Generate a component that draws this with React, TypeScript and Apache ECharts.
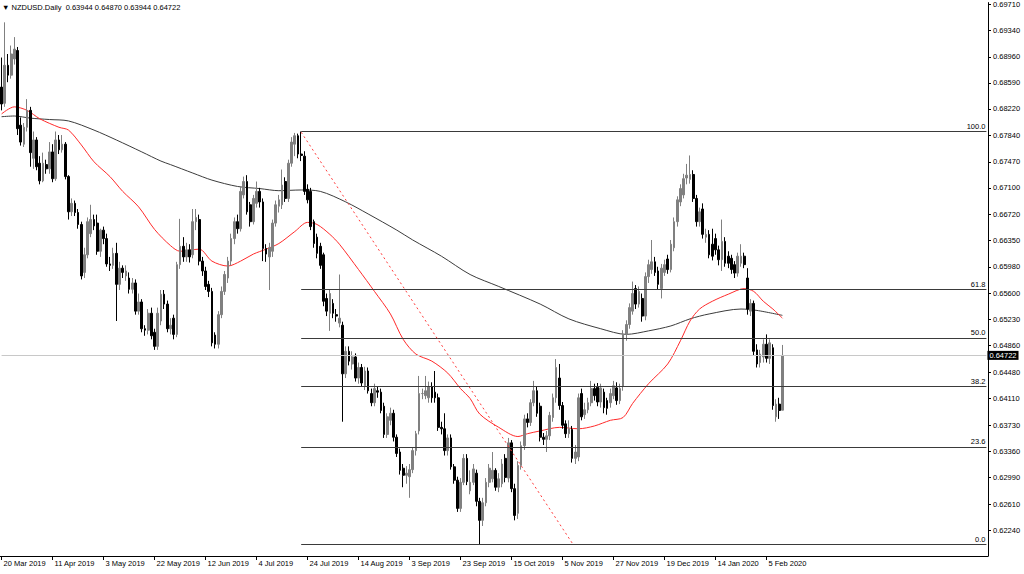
import React, { useEffect, useRef } from "react";
import * as echarts from "echarts";

const symbol = "NZDUSD";
const timeframe = "Daily";
const totalSlots = 310;

const dateLabels = [
  "20 Mar 2019", "11 Apr 2019", "3 May 2019", "22 May 2019", "12 Jun 2019", "4 Jul 2019",
  "24 Jul 2019", "14 Aug 2019", "3 Sep 2019", "23 Sep 2019", "15 Oct 2019", "5 Nov 2019",
  "27 Nov 2019", "19 Dec 2019", "14 Jan 2020", "5 Feb 2020",
];

const yTickValues = [
  0.6187, 0.6224, 0.6261, 0.6299, 0.6336, 0.6373, 0.6411, 0.6448, 0.6486, 0.6523, 0.656,
  0.6598, 0.6635, 0.6672, 0.671, 0.6747, 0.6784, 0.6822, 0.6859, 0.6896, 0.6934, 0.6971,
];

const opens = [
  0.6853, 0.6830, 0.6884, 0.6870, 0.6893, 0.6905, 0.6799, 0.6772, 0.6796, 0.6820,
  0.6752, 0.6778, 0.6745, 0.6720, 0.6743, 0.6737, 0.6761, 0.6723, 0.6778, 0.6764,
  0.6772, 0.6726, 0.6676, 0.6688, 0.6675, 0.6658, 0.6590, 0.6615, 0.6645, 0.6665,
  0.6660, 0.6620, 0.6650, 0.6638, 0.6602, 0.6600, 0.6617, 0.6573, 0.6596, 0.6585,
  0.6582, 0.6566, 0.6575, 0.6535, 0.6548, 0.6510, 0.6508, 0.6532, 0.6505, 0.6485,
  0.6521, 0.6559, 0.6545, 0.6510, 0.6525, 0.6502, 0.6601, 0.6627, 0.6612, 0.6622,
  0.6615, 0.6662, 0.6665, 0.6606, 0.6592, 0.6573, 0.6563, 0.6501, 0.6488, 0.6530,
  0.6563, 0.6582, 0.6606, 0.6638, 0.6662, 0.6652, 0.6700, 0.6719, 0.6686, 0.6662,
  0.6688, 0.6705, 0.6690, 0.6624, 0.6612, 0.6620, 0.6660, 0.6684, 0.6686, 0.6719,
  0.6695, 0.6745, 0.6772, 0.6784, 0.6758, 0.6755, 0.6708, 0.6705, 0.6662, 0.6640,
  0.6627, 0.6615, 0.6553, 0.6532, 0.6546, 0.6530, 0.6518, 0.6515, 0.6446, 0.6478,
  0.6460, 0.6470, 0.6440, 0.6455, 0.6429, 0.6450, 0.6418, 0.6405, 0.6422, 0.6420,
  0.6400, 0.6360, 0.6380, 0.6390, 0.6356, 0.6335, 0.6312, 0.6302, 0.6300, 0.6310,
  0.6337, 0.6365, 0.6418, 0.6415, 0.6412, 0.6428, 0.6420, 0.6412, 0.6370, 0.6368,
  0.6337, 0.6355, 0.6314, 0.6295, 0.6255, 0.6292, 0.6326, 0.6280, 0.6292, 0.6305,
  0.6265, 0.6238, 0.6263, 0.6292, 0.6297, 0.6309, 0.6285, 0.6290, 0.6326, 0.6298,
  0.6348, 0.6283, 0.6248, 0.6316, 0.6344, 0.6382, 0.6377, 0.6405, 0.6422, 0.6400,
  0.6356, 0.6353, 0.6358, 0.6384, 0.6412, 0.6440, 0.6401, 0.6375, 0.6361, 0.6367,
  0.6326, 0.6328, 0.6418, 0.6388, 0.6395, 0.6405, 0.6425, 0.6427, 0.6406, 0.6420,
  0.6408, 0.6405, 0.6415, 0.6426, 0.6408, 0.6428, 0.6502, 0.6516, 0.6535, 0.6567,
  0.6545, 0.6553, 0.6528, 0.6584, 0.6594, 0.6605, 0.6592, 0.6567, 0.6590, 0.6609,
  0.6594, 0.6625, 0.6662, 0.6690, 0.6700, 0.6724, 0.6722, 0.6729, 0.6695, 0.6662,
  0.6680, 0.6640, 0.6644, 0.6630, 0.6638, 0.6622, 0.6608, 0.6634, 0.6613, 0.6610,
  0.6601, 0.6589, 0.6603, 0.6613, 0.6582, 0.6535, 0.6546, 0.6480, 0.6462, 0.6470,
  0.6488, 0.6468, 0.6483, 0.6385, 0.6403, 0.63944,
];

const highs = [
  0.6895, 0.6945, 0.6900, 0.6912, 0.6924, 0.6910, 0.6810, 0.6802, 0.6836, 0.6825,
  0.6790, 0.6782, 0.6755, 0.6760, 0.6750, 0.6775, 0.6772, 0.6790, 0.6785, 0.6785,
  0.6775, 0.6728, 0.6695, 0.6692, 0.6680, 0.6662, 0.6625, 0.6668, 0.6686, 0.6672,
  0.6672, 0.6652, 0.6655, 0.6645, 0.6612, 0.6625, 0.6632, 0.6605, 0.6600, 0.6600,
  0.6590, 0.6582, 0.6580, 0.6560, 0.6552, 0.6515, 0.6538, 0.6540, 0.6510, 0.6540,
  0.6565, 0.6565, 0.6550, 0.6525, 0.6530, 0.6605, 0.6666, 0.6640, 0.6632, 0.6630,
  0.6680, 0.6680, 0.6672, 0.6612, 0.6598, 0.6578, 0.6568, 0.6505, 0.6535, 0.6570,
  0.6592, 0.6612, 0.6645, 0.6668, 0.6672, 0.6712, 0.6726, 0.6728, 0.6690, 0.6700,
  0.6719, 0.6710, 0.6695, 0.6630, 0.6632, 0.6665, 0.6692, 0.6700, 0.6736, 0.6725,
  0.6750, 0.6782, 0.6788, 0.6787, 0.6790, 0.6762, 0.6715, 0.6710, 0.6665, 0.6645,
  0.6632, 0.6618, 0.6560, 0.6565, 0.6552, 0.6538, 0.6587, 0.6520, 0.6485, 0.6485,
  0.6478, 0.6475, 0.6462, 0.6460, 0.6456, 0.6455, 0.6425, 0.6432, 0.6428, 0.6425,
  0.6405, 0.6390, 0.6398, 0.6395, 0.6360, 0.6340, 0.6318, 0.6315, 0.6318, 0.6342,
  0.6365, 0.6443, 0.6425, 0.6443, 0.6435, 0.6434, 0.6450, 0.6418, 0.6378, 0.6390,
  0.6360, 0.6360, 0.6318, 0.6300, 0.6298, 0.6332, 0.6332, 0.6309, 0.6318, 0.6310,
  0.6270, 0.6270, 0.6298, 0.6318, 0.6335, 0.6312, 0.6305, 0.6325, 0.6332, 0.6355,
  0.6352, 0.6290, 0.6322, 0.6350, 0.6388, 0.6390, 0.6410, 0.6436, 0.6428, 0.6405,
  0.6362, 0.6365, 0.6392, 0.6418, 0.6467, 0.6460, 0.6406, 0.6380, 0.6380, 0.6372,
  0.6345, 0.6418, 0.6425, 0.6405, 0.6412, 0.6436, 0.6432, 0.6433, 0.6432, 0.6425,
  0.6412, 0.6425, 0.6436, 0.6434, 0.6432, 0.6508, 0.6522, 0.6546, 0.6577, 0.6572,
  0.6570, 0.6560, 0.6590, 0.6608, 0.6636, 0.6612, 0.6598, 0.6602, 0.6608, 0.6615,
  0.6636, 0.6668, 0.6698, 0.6715, 0.6730, 0.6744, 0.6756, 0.6735, 0.6700, 0.6682,
  0.6688, 0.6652, 0.6650, 0.6652, 0.6645, 0.6628, 0.6665, 0.6640, 0.6620, 0.6615,
  0.6606, 0.6618, 0.6630, 0.6618, 0.6596, 0.6552, 0.6550, 0.6488, 0.6480, 0.6495,
  0.6502, 0.6495, 0.6488, 0.6410, 0.6412, 0.6487,
];

const lows = [
  0.6820, 0.6825, 0.6860, 0.6865, 0.6885, 0.6785, 0.6770, 0.6768, 0.6790, 0.6740,
  0.6737, 0.6735, 0.6715, 0.6718, 0.6730, 0.6730, 0.6718, 0.6720, 0.6758, 0.6760,
  0.6722, 0.6665, 0.6670, 0.6670, 0.6652, 0.6580, 0.6582, 0.6610, 0.6640, 0.6650,
  0.6615, 0.6612, 0.6630, 0.6598, 0.6592, 0.6595, 0.6521, 0.6565, 0.6582, 0.6578,
  0.6560, 0.6560, 0.6530, 0.6530, 0.6505, 0.6500, 0.6502, 0.6495, 0.6480, 0.6480,
  0.6515, 0.6538, 0.6505, 0.6502, 0.6495, 0.6498, 0.6595, 0.6605, 0.6605, 0.6604,
  0.6610, 0.6650, 0.6600, 0.6585, 0.6565, 0.6555, 0.6485, 0.6482, 0.6482, 0.6525,
  0.6558, 0.6575, 0.6600, 0.6630, 0.6645, 0.6648, 0.6695, 0.6672, 0.6655, 0.6658,
  0.6682, 0.6682, 0.6606, 0.6605, 0.6565, 0.6612, 0.6655, 0.6675, 0.6680, 0.6690,
  0.6690, 0.6740, 0.6755, 0.6752, 0.6748, 0.6700, 0.6688, 0.6650, 0.6625, 0.6610,
  0.6595, 0.6542, 0.6528, 0.6507, 0.6525, 0.6520, 0.6512, 0.6378, 0.6440, 0.6458,
  0.6452, 0.6435, 0.6432, 0.6428, 0.6423, 0.6418, 0.6400, 0.6400, 0.6412, 0.6390,
  0.6355, 0.6355, 0.6373, 0.6350, 0.6328, 0.6303, 0.6285, 0.6290, 0.6270, 0.6305,
  0.6330, 0.6360, 0.6410, 0.6410, 0.6405, 0.6405, 0.6405, 0.6365, 0.6360, 0.6330,
  0.6330, 0.6310, 0.6290, 0.6250, 0.6250, 0.6288, 0.6288, 0.6275, 0.6288, 0.6258,
  0.6204, 0.6230, 0.6258, 0.6285, 0.6292, 0.6280, 0.6278, 0.6285, 0.6292, 0.6292,
  0.6278, 0.6238, 0.6240, 0.6310, 0.6338, 0.6370, 0.6372, 0.6400, 0.6385, 0.6350,
  0.6345, 0.6335, 0.6352, 0.6378, 0.6405, 0.6395, 0.6368, 0.6355, 0.6355, 0.6320,
  0.6318, 0.6322, 0.6380, 0.6382, 0.6390, 0.6400, 0.6408, 0.6400, 0.6398, 0.6390,
  0.6388, 0.6398, 0.6410, 0.6402, 0.6403, 0.6422, 0.6493, 0.6510, 0.6530, 0.6538,
  0.6540, 0.6520, 0.6522, 0.6575, 0.6588, 0.6585, 0.6566, 0.6553, 0.6585, 0.6588,
  0.6590, 0.6620, 0.6655, 0.6684, 0.6695, 0.6715, 0.6716, 0.6690, 0.6655, 0.6655,
  0.6638, 0.6632, 0.6610, 0.6607, 0.6615, 0.6600, 0.6592, 0.6598, 0.6596, 0.6588,
  0.6582, 0.6584, 0.6598, 0.6596, 0.6530, 0.6528, 0.6472, 0.6455, 0.6455, 0.6462,
  0.6462, 0.6460, 0.6395, 0.6378, 0.6382, 0.63944,
];

const closes = [
  0.6829, 0.6884, 0.6870, 0.6900, 0.6907, 0.6794, 0.6775, 0.6796, 0.6820, 0.6760,
  0.6778, 0.6740, 0.6720, 0.6745, 0.6737, 0.6761, 0.6723, 0.6778, 0.6764, 0.6772,
  0.6726, 0.6676, 0.6688, 0.6675, 0.6658, 0.6585, 0.6615, 0.6662, 0.6665, 0.6656,
  0.6620, 0.6650, 0.6638, 0.6602, 0.6600, 0.6617, 0.6573, 0.6596, 0.6590, 0.6592,
  0.6566, 0.6575, 0.6535, 0.6548, 0.6510, 0.6508, 0.6532, 0.6500, 0.6485, 0.6532,
  0.6559, 0.6545, 0.6510, 0.6515, 0.6502, 0.6601, 0.6627, 0.6612, 0.6622, 0.6612,
  0.6662, 0.6668, 0.6606, 0.6592, 0.6570, 0.6563, 0.6490, 0.6488, 0.6530, 0.6563,
  0.6587, 0.6606, 0.6638, 0.6662, 0.6652, 0.6705, 0.6719, 0.6676, 0.6662, 0.6695,
  0.6705, 0.6690, 0.6624, 0.6616, 0.6625, 0.6660, 0.6686, 0.6693, 0.6714, 0.6695,
  0.6745, 0.6775, 0.6784, 0.6758, 0.6756, 0.6705, 0.6693, 0.6655, 0.6631, 0.6617,
  0.6600, 0.6549, 0.6535, 0.6560, 0.6532, 0.6528, 0.6525, 0.6446, 0.6478, 0.6464,
  0.6470, 0.6440, 0.6455, 0.6433, 0.6450, 0.6422, 0.6405, 0.6425, 0.6420, 0.6394,
  0.6360, 0.6385, 0.6390, 0.6356, 0.6333, 0.6309, 0.6302, 0.6305, 0.6310, 0.6337,
  0.6361, 0.6418, 0.6418, 0.6422, 0.6428, 0.6412, 0.6412, 0.6370, 0.6368, 0.6337,
  0.6355, 0.6314, 0.6295, 0.6255, 0.6292, 0.6326, 0.6293, 0.6292, 0.6311, 0.6265,
  0.6238, 0.6263, 0.6292, 0.6312, 0.6309, 0.6285, 0.6297, 0.6318, 0.6299, 0.6348,
  0.6283, 0.6245, 0.6316, 0.6344, 0.6382, 0.6377, 0.6405, 0.6422, 0.6390, 0.6356,
  0.6353, 0.6358, 0.6387, 0.6412, 0.6455, 0.6401, 0.6373, 0.6361, 0.6368, 0.6326,
  0.6335, 0.6412, 0.6385, 0.6395, 0.6405, 0.6425, 0.6415, 0.6406, 0.6426, 0.6398,
  0.6397, 0.6418, 0.6429, 0.6408, 0.6425, 0.6502, 0.6516, 0.6540, 0.6560, 0.6545,
  0.6563, 0.6528, 0.6584, 0.6601, 0.6605, 0.6590, 0.6573, 0.6596, 0.6601, 0.6594,
  0.6630, 0.6662, 0.6693, 0.6709, 0.6723, 0.6728, 0.6729, 0.6695, 0.6662, 0.6676,
  0.6644, 0.6644, 0.6615, 0.6613, 0.6622, 0.6608, 0.6634, 0.6603, 0.6603, 0.6594,
  0.6589, 0.6613, 0.6613, 0.6601, 0.6538, 0.6546, 0.6478, 0.6460, 0.6474, 0.6488,
  0.6468, 0.6490, 0.6401, 0.6403, 0.6394, 0.64722,
];

// moving averages: [bar index, value]
const maFast = [
  [0, 0.6815], [4, 0.6825], [8, 0.6820], [12, 0.6808], [18, 0.6796], [21, 0.6792], [25, 0.6771],
  [29, 0.6747], [34, 0.6726], [38, 0.6705], [43, 0.6683], [48, 0.6651], [53, 0.6628], [56, 0.6620],
  [62, 0.6623], [66, 0.6606], [71, 0.6599], [75, 0.6606], [79, 0.6616], [83, 0.6623], [87, 0.6631],
  [92, 0.6648], [96, 0.6661], [99, 0.6658], [103, 0.6644], [106, 0.663], [112, 0.6594], [117, 0.6563],
  [122, 0.6531], [126, 0.6495], [130, 0.6474], [135, 0.6464], [140, 0.6447], [144, 0.6425],
  [147, 0.6411], [150, 0.6389], [156, 0.637], [162, 0.6357], [165, 0.6361], [169, 0.6365],
  [175, 0.637], [181, 0.6368], [186, 0.6372], [191, 0.638], [195, 0.6384], [198, 0.6404],
  [203, 0.6432], [209, 0.646], [213, 0.6493], [216, 0.6521], [219, 0.6538], [223, 0.6549],
  [228, 0.6559], [233, 0.6567], [236, 0.6563], [239, 0.6549], [242, 0.6538], [245, 0.6525],
];

const maSlow = [
  [0, 0.6811], [4, 0.6812], [9, 0.6809], [15, 0.6807], [21, 0.6805], [29, 0.6792], [36, 0.6778],
  [44, 0.6761], [50, 0.6748], [53, 0.6743], [60, 0.6731], [66, 0.6721], [74, 0.6712], [81, 0.6709],
  [87, 0.6706], [94, 0.6707], [100, 0.6705], [108, 0.669], [115, 0.6673], [124, 0.665],
  [129, 0.6636], [138, 0.6613], [147, 0.6587], [156, 0.657], [169, 0.6545], [178, 0.6524],
  [188, 0.651], [196, 0.6502], [203, 0.6507], [210, 0.6514], [216, 0.6524], [222, 0.6531],
  [232, 0.6538], [237, 0.6536], [245, 0.6529],
];

const fibRatios = [0.0, 23.6, 38.2, 50.0, 61.8, 100.0];
const fibHighBar = 94;
const fibLowBar = 150;
const trendLine = [[94, 0.6789], [179, 0.6206]];

const FONT = "'Liberation Sans', Arial, sans-serif";

export default function App() {
  const ref = useRef<HTMLDivElement>(null);

  useEffect(() => {
    if (!ref.current) return;
    const chart = echarts.init(ref.current, undefined, { renderer: "svg" });

    const categories = Array.from({ length: totalSlots }, (_, i) => String(i));
    const candleData = opens.map((o, i) => [o, closes[i], lows[i], highs[i]]);
    const n = opens.length - 1;
    const lastClose = closes[n];
    const fibHigh = highs[fibHighBar];
    const fibLow = lows[fibLowBar];
    const isLabelSlot = (i: number) => i % 16 === 0 && i / 16 < dateLabels.length;

    const fibLines = fibRatios.map((r) => {
      const v = fibLow + ((fibHigh - fibLow) * r) / 100;
      return [
        {
          coord: [fibHighBar, v],
          lineStyle: { color: "#3a3a3a", width: 1, type: "solid" },
          label: {
            show: true,
            position: "insideEndTop",
            formatter: r.toFixed(1),
            fontSize: 7.5,
            fontFamily: FONT,
            color: "#000",
            distance: [1, 1],
          },
        },
        { coord: [totalSlots - 1, v] },
      ];
    });

    const title = `▼ ${symbol}.${timeframe}  ${opens[n].toFixed(5)} ${highs[n].toFixed(5)} ${lows[n].toFixed(5)} ${closes[n].toFixed(5)}`;

    chart.setOption({
      animation: false,
      backgroundColor: "#ffffff",
      title: {
        text: title,
        left: 2,
        top: 3,
        padding: 0,
        textStyle: { fontSize: 7.5, fontWeight: "normal", color: "#000", fontFamily: FONT },
      },
      grid: { left: 0, right: 36, top: 0, bottom: 18, containLabel: false },
      xAxis: {
        type: "category",
        data: categories,
        boundaryGap: true,
        axisLine: { show: true, lineStyle: { color: "#000", width: 1 } },
        axisTick: {
          show: true,
          alignWithLabel: true,
          interval: (i: number) => isLabelSlot(i),
          length: 4,
          lineStyle: { color: "#000" },
        },
        axisLabel: {
          interval: (i: number) => isLabelSlot(i),
          formatter: (v: string) => {
            const k = Number(v) / 16;
            return dateLabels[k] ?? "";
          },
          align: "left",
          margin: 3,
          padding: [0, 0, 0, 2],
          fontSize: 7.5,
          fontFamily: FONT,
          color: "#000",
          hideOverlap: false,
        },
        splitLine: { show: false },
      },
      yAxis: {
        type: "value",
        position: "right",
        min: 0.61874,
        max: 0.6973,
        axisLine: { show: true, lineStyle: { color: "#000", width: 1 } },
        axisTick: { show: true, length: 3, customValues: yTickValues, lineStyle: { color: "#000" } },
        axisLabel: {
          customValues: yTickValues,
          formatter: (v: number) => v.toFixed(5),
          margin: 5,
          fontSize: 7.5,
          fontFamily: FONT,
          color: "#000",
          showMinLabel: true,
          showMaxLabel: true,
        },
        splitLine: { show: false },
      },
      series: [
        {
          type: "line",
          data: maSlow,
          showSymbol: false,
          smooth: 0.3,
          silent: true,
          lineStyle: { color: "#3c3c3c", width: 1 },
          z: 2,
        },
        {
          type: "line",
          data: maFast,
          showSymbol: false,
          smooth: 0.3,
          silent: true,
          lineStyle: { color: "#ff2a2a", width: 1 },
          z: 2,
        },
        {
          type: "candlestick",
          data: candleData,
          barWidth: 2.2,
          silent: true,
          z: 3,
          itemStyle: {
            color: "#808080",
            color0: "#000000",
            borderColor: "#808080",
            borderColor0: "#000000",
            borderWidth: 1,
          },
          markLine: {
            silent: true,
            symbol: ["none", "none"],
            animation: false,
            data: [
              [
                {
                  coord: [0, lastClose],
                  lineStyle: { color: "#c8c8c8", width: 1, type: "solid" },
                  label: {
                    show: true,
                    position: "end",
                    formatter: lastClose.toFixed(5),
                    backgroundColor: "#000",
                    color: "#fff",
                    padding: [1, 2, 0, 2],
                    fontSize: 7.5,
                    fontFamily: FONT,
                    distance: 1,
                  },
                },
                { coord: [totalSlots - 1, lastClose] },
              ],
              ...fibLines,
              [
                {
                  coord: trendLine[0],
                  lineStyle: { color: "#ff3b3b", width: 1, type: [2, 3] },
                  label: { show: false },
                },
                { coord: trendLine[1] },
              ],
            ],
          },
        },
      ],
    });

    return () => chart.dispose();
  }, []);

  return (
    <div
      ref={ref}
      style={{ position: "absolute", left: 0, top: 0, width: 1024, height: 574, background: "#fff" }}
    />
  );
}
